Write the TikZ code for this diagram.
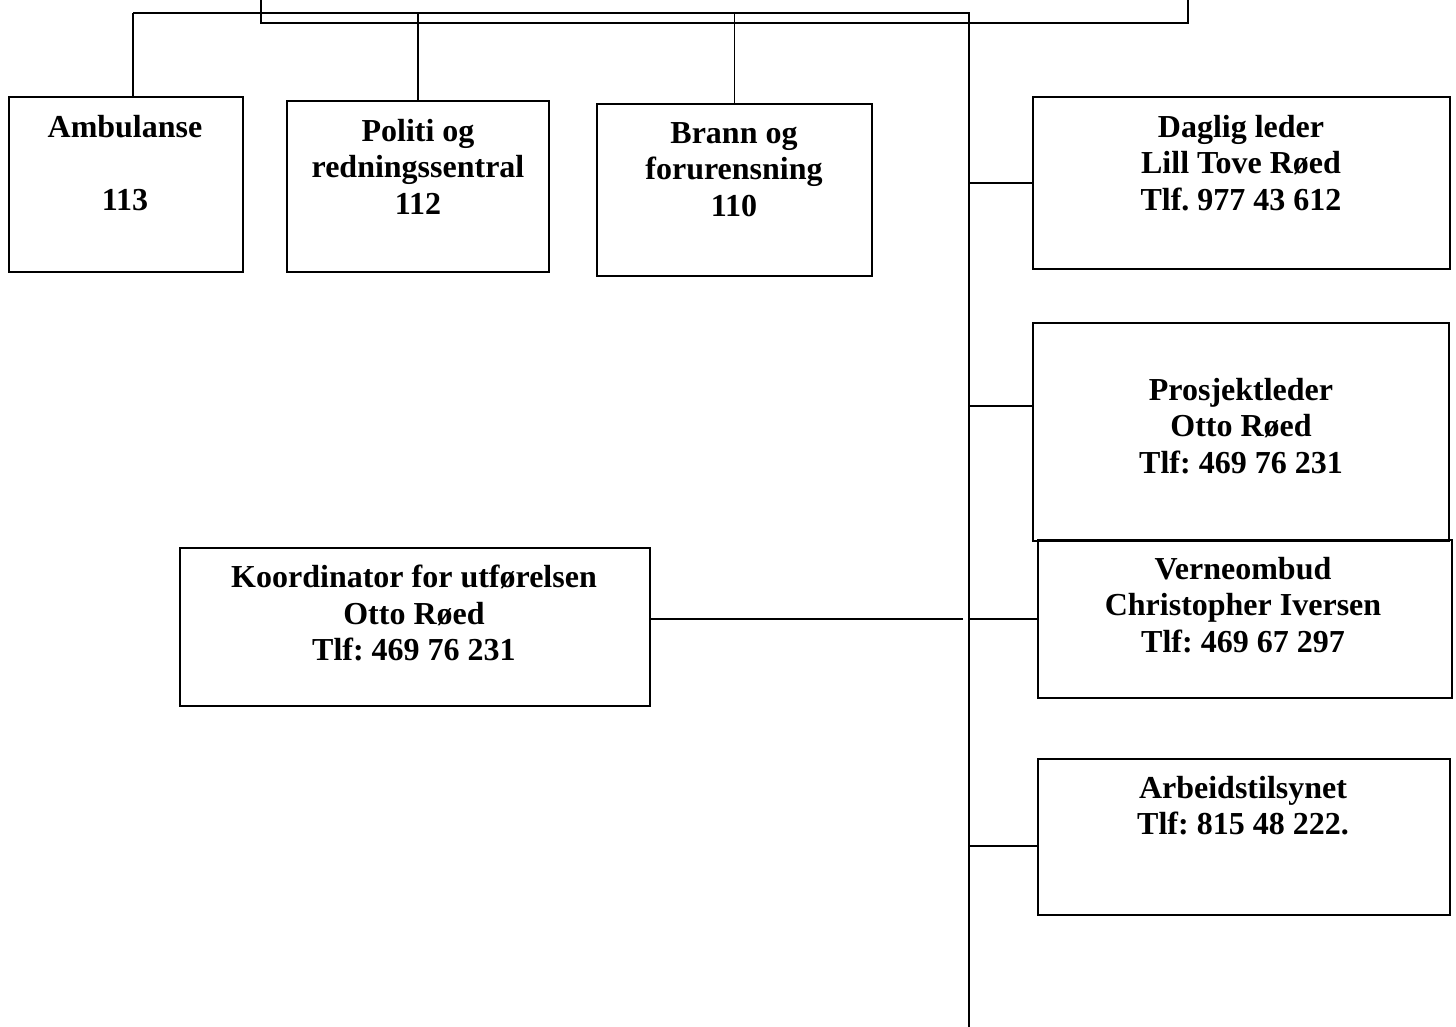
\documentclass[tikz,border=0pt]{standalone}
\usepackage{fontspec}
\setmainfont{Liberation Serif}
\usetikzlibrary{calc}
\frenchspacing

\tikzset{
  boks/.style={draw, line width=1.8pt, rectangle, anchor=north west, inner sep=0pt},
  tekst/.style={anchor=north, align=center, inner sep=0pt,
    font=\fontsize{32}{36.5}\selectfont\bfseries},
  linje/.style={draw, line width=1.5pt}
}

\begin{document}
\begin{tikzpicture}[x=1pt,y=1pt,yscale=-1,xscale=1]
\useasboundingbox (0,0) rectangle (1456,1026);

% Boxes
\node[boks, anchor=south west, minimum width=927, minimum height=60] (topp) at (260,24) {};
\node[boks, minimum width=234, minimum height=175] (amb) at (8,96) {};
\node[boks, minimum width=262, minimum height=171] (pol) at (286,100) {};
\node[boks, minimum width=275, minimum height=172] (brann) at (596,103) {};
\node[boks, minimum width=417, minimum height=172] (daglig) at (1032,96) {};
\node[boks, minimum width=416, minimum height=218] (prosj) at (1032,322) {};
\node[boks, minimum width=414, minimum height=158] (vern) at (1037,539) {};
\node[boks, minimum width=470, minimum height=158] (koord) at (179,547) {};
\node[boks, minimum width=412, minimum height=156] (arb) at (1037,758) {};

% Text Node
\node[tekst] (ambT) at (125,115) {Ambulanse\\[36.5pt]113};
% Text Node
\node[tekst] (polT) at (418,119) {Politi og\\redningssentral\\112};
% Text Node
\node[tekst] (brannT) at (734,122) {Brann og\\forurensning\\110};
% Text Node
\node[tekst] (dagligT) at (1241,115) {Daglig leder\\Lill Tove Røed\\Tlf. 977 43 612};
% Text Node
\node[tekst] (prosjT) at (1241,378) {Prosjektleder\\Otto Røed\\Tlf: 469 76 231};
% Text Node
\node[tekst] (vernT) at (1243,557) {Verneombud\\Christopher Iversen\\Tlf: 469 67 297};
% Text Node
\node[tekst] (koordT) at (414,565) {Koordinator for utførelsen\\Otto Røed\\Tlf: 469 76 231};
% Text Node
\node[tekst] (arbT) at (1243,776) {Arbeidstilsynet\\Tlf: 815 48 222.};

% Bus and spine
\coordinate (busL) at (133,13);
\coordinate (busR) at (969,13);
\coordinate (spineB) at (969,1030);
\coordinate (prosjTap) at (969,406);
\coordinate (vernTap) at (969,619);
\coordinate (koordEnd) at (963,619);
\coordinate (arbTap) at (969,846);

\draw[linje] (busL) -- (busR) -- (spineB);
\draw[linje] (busL) -- (busL |- amb.north);
\draw[linje] (pol.north) -- (pol.north |- busL);
\draw[linje] (brann.north) -- (brann.north |- busL);

% Side connectors
\draw[linje] (daglig.west) -- (daglig.west -| busR);
\draw[linje] (prosjTap) -- (prosjTap -| prosj.west);
\draw[linje] (vernTap) -- (vernTap -| vern.west);
\draw[linje] (koordEnd) -- (koordEnd -| koord.east);
\draw[linje] (arbTap) -- (arbTap -| arb.west);

\end{tikzpicture}
\end{document}
